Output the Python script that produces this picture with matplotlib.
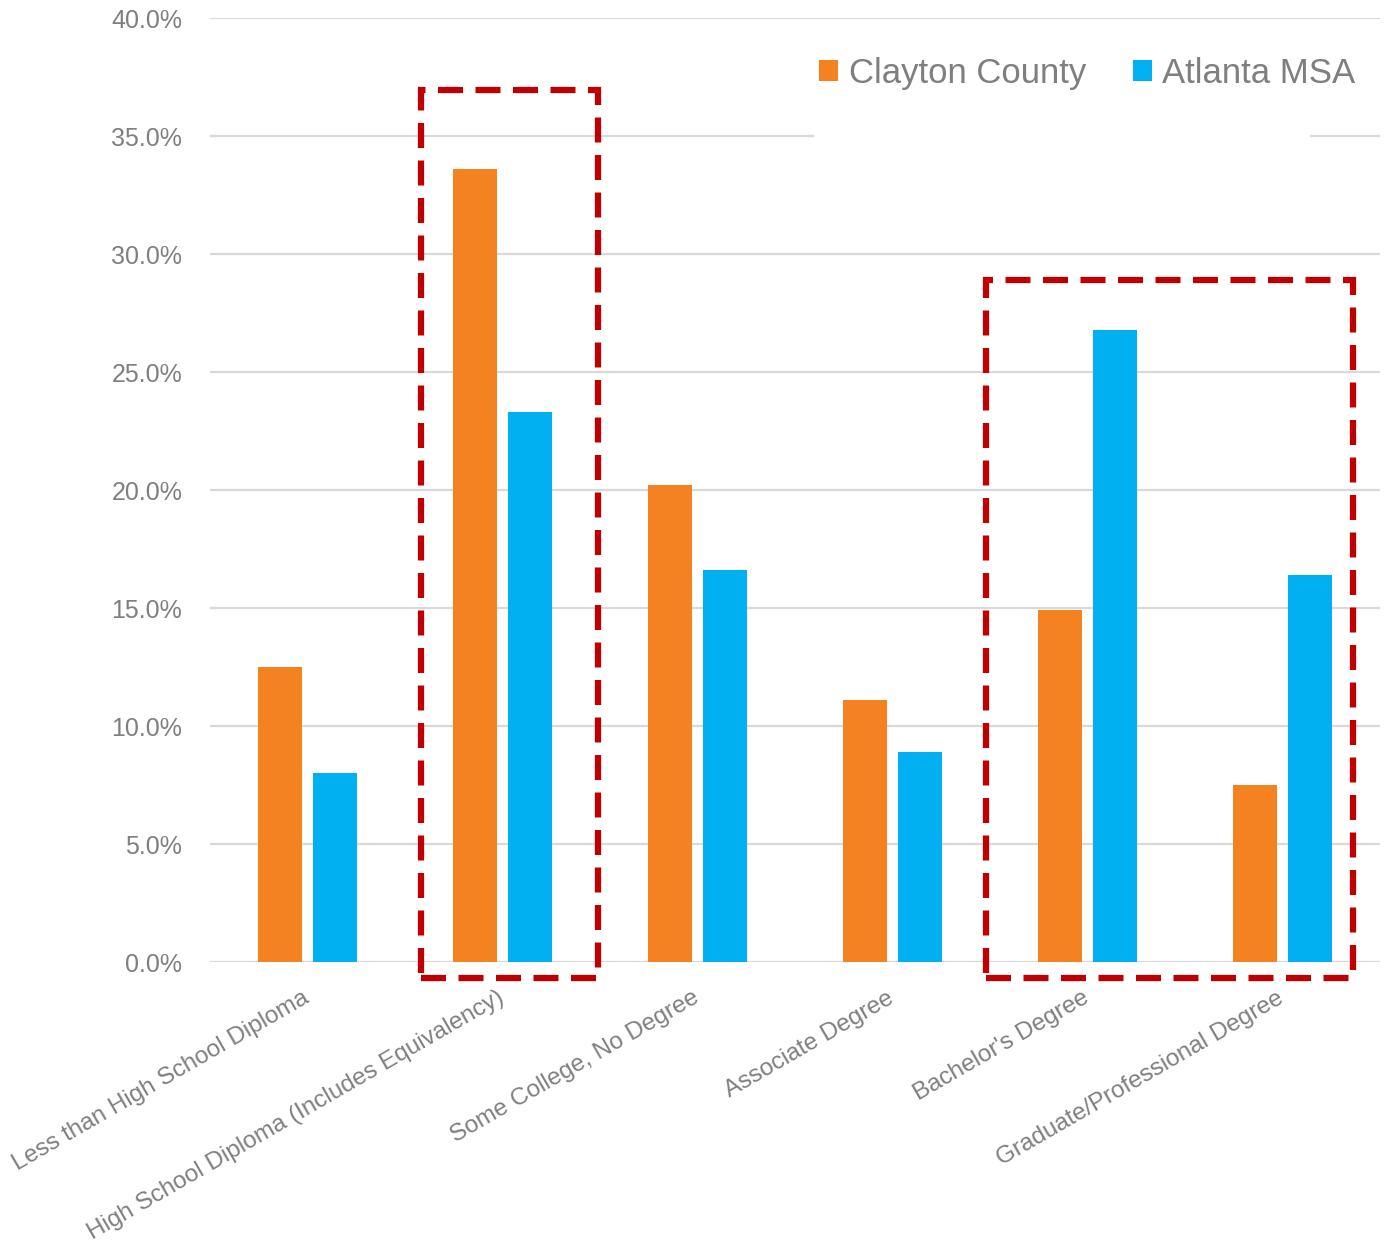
import matplotlib
matplotlib.use("Agg")
import matplotlib.pyplot as plt
from matplotlib import font_manager
from matplotlib.patches import Rectangle
import numpy as np

# Educational attainment shares (%), population 25+
categories = [
    "Less than High School Diploma",
    "High School Diploma (Includes Equivalency)",
    "Some College, No Degree",
    "Associate Degree",
    "Bachelor's Degree",
    "Graduate/Professional Degree",
]
clayton = [12.5, 33.6, 20.2, 11.1, 14.9, 7.5]
atlanta = [8.0, 23.3, 16.6, 8.9, 26.8, 16.4]
series_names = ["Clayton County", "Atlanta MSA"]
y_ticks = [0, 5, 10, 15, 20, 25, 30, 35, 40]

# Highlight boxes: (left, right) in category units, top in %
highlights = [(0.58, 1.49, 36.95), (3.48, 5.36, 28.9)]

available = {f.name for f in font_manager.fontManager.ttflist}
family = "Liberation Sans Narrow" if "Liberation Sans Narrow" in available else "Liberation Sans"
plt.rcParams["font.family"] = [family, "DejaVu Sans"]

ORANGE = "#F58220"
BLUE = "#00B0F0"
GRAY_TEXT = "#7F7F7F"
GRID = "#D9D9D9"
RED = "#C00000"

fig = plt.figure(figsize=(13.89, 12.46), dpi=100)
ax = fig.add_axes([210 / 1389, 1 - 962 / 1246, 1170 / 1389, 944 / 1246])

x = np.arange(len(categories))
width = 0.225
offset = 0.141
ax.bar(x - offset, clayton, width, color=ORANGE, label=series_names[0], zorder=3)
ax.bar(x + offset, atlanta, width, color=BLUE, label=series_names[1], zorder=3)

ax.set_xlim(-0.5, len(categories) - 0.5)
ax.set_ylim(0, 40)
ax.set_yticks(y_ticks)
ax.set_yticklabels([f"{v:.1f}%" for v in y_ticks])
ax.yaxis.grid(True, color=GRID, linewidth=1.6, zorder=0)
ax.set_axisbelow(True)
for s in ax.spines.values():
    s.set_visible(False)
ax.tick_params(axis="y", length=0, pad=20, labelsize=18, labelcolor=GRAY_TEXT)
ax.tick_params(axis="x", length=0, pad=18, labelsize=17.5, labelcolor=GRAY_TEXT)

ax.set_xticks(x - 0.03)
ax.set_xticklabels(categories, rotation=30, ha="right", va="top", rotation_mode="anchor")

# Dashed highlight boxes around selected categories
bottom = -0.68
for left, right, top in highlights:
    ax.add_patch(Rectangle((left, bottom), right - left, top - bottom, fill=False,
                           edgecolor=RED, linewidth=4.5, linestyle=(0, (4, 2)),
                           clip_on=False, zorder=4))

# White backing behind the legend, hiding the grid line beneath it
ax.add_patch(Rectangle((0.516, 0.85), 0.424, 0.125, transform=ax.transAxes,
                       facecolor="white", edgecolor="none", zorder=1))

leg = ax.legend(loc="center right", bbox_to_anchor=(0.979, 0.9417), ncol=2, frameon=False,
                borderaxespad=0, borderpad=0,
                fontsize=25, handlelength=0.55, handleheight=0.55, handletextpad=0.3,
                columnspacing=1.35, labelcolor=GRAY_TEXT)

fig.savefig("out.png", dpi=100, facecolor="white")
